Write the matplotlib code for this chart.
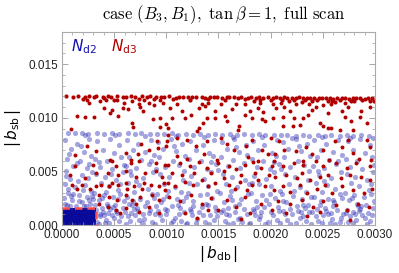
#!/usr/bin/env python3
"""Scatter of |b_sb| vs |b_db| for N_d2 / N_d3, case (B3, B1), tan beta = 1."""
import numpy as np
import matplotlib
matplotlib.use('Agg')
import matplotlib.pyplot as plt
from matplotlib.ticker import MultipleLocator, FormatStrFormatter

plt.rcParams['font.family'] = ['Liberation Sans', 'DejaVu Sans']
plt.rcParams['mathtext.fontset'] = 'cm'

# units: |b_db| in 1e-4, |b_sb| in 1e-3
X_UNIT, Y_UNIT = 1e-4, 1e-3

# N_d3: the dense ridge near |b_sb| ~ 0.012
nd3_ridge = [
    (0.4, 12.0), (1.1, 11.95), (1.5, 12.02), (2.2, 11.9), (2.6, 12.0), (3.1, 11.97), (3.3, 12.03),
    (3.9, 11.92), (4.4, 12.0), (4.7, 11.96), (5.3, 12.02), (5.8, 11.9), (6.1, 11.98), (6.6, 12.0),
    (7.0, 11.93), (7.7, 11.99), (8.1, 11.95), (8.4, 12.01), (9.0, 11.9), (9.5, 11.97), (9.8, 11.94),
    (10.3, 11.99), (10.9, 11.88), (11.2, 11.95), (11.6, 11.98), (12.1, 11.9), (12.5, 11.96),
    (12.8, 11.93), (13.4, 11.97), (13.7, 11.88), (14.2, 11.95), (14.6, 11.92), (14.9, 11.97),
    (15.3, 11.87), (15.8, 11.94), (16.0, 11.9), (16.5, 11.96), (16.9, 11.86), (17.2, 11.92),
    (17.8, 11.89), (18.1, 11.94), (18.6, 11.85), (18.9, 11.91), (19.3, 11.88), (19.7, 11.93),
    (20.2, 11.84), (20.5, 11.9), (20.9, 11.87), (21.3, 11.92), (21.6, 11.83), (22.0, 11.89),
    (22.4, 11.86), (22.7, 11.9), (23.1, 11.82), (23.5, 11.88), (23.8, 11.85), (24.2, 11.89),
    (24.6, 11.8), (24.9, 11.86), (25.3, 11.83), (25.7, 11.88), (26.0, 11.79), (26.4, 11.85),
    (26.8, 11.82), (27.1, 11.86), (27.5, 11.78), (27.9, 11.84), (28.2, 11.8), (28.6, 11.85),
    (29.0, 11.77), (29.3, 11.82), (29.7, 11.8),
    (2.0, 11.75), (4.0, 11.8), (5.0, 11.7), (7.4, 11.78), (8.8, 11.72), (10.6, 11.76), (12.3, 11.7),
    (14.0, 11.74), (15.6, 11.68), (17.5, 11.72), (19.0, 11.66), (20.0, 11.7), (21.1, 11.65),
    (22.2, 11.69), (23.3, 11.62), (24.4, 11.67), (25.5, 11.6), (26.6, 11.65), (27.7, 11.6),
    (28.8, 11.63), (29.5, 11.58), (18.4, 11.6), (21.8, 11.55), (24.0, 11.55), (26.2, 11.5),
    (28.0, 11.52), (29.9, 11.6), (23.0, 11.5), (25.9, 11.58),
]

# N_d3: scattered points below the ridge
nd3_scatter = [
    (1.41, 10.2), (2.2, 10.1), (3.1, 10.1), (4.05, 10.9), (4.6, 10.4), (4.8, 10.7), (5.4, 10.15),
    (5.8, 10.9), (6.35, 10.8), (6.7, 9.5), (6.8, 9.1), (7.5, 11.0), (7.8, 10.6), (8.75, 9.85),
    (9.4, 10.0), (9.4, 9.1), (10.0, 9.4), (10.2, 8.4), (9.1, 7.8), (9.2, 7.2), (8.3, 7.0), (7.3, 6.6),
    (6.6, 6.1), (6.1, 6.7), (10.0, 7.4), (7.6, 7.6), (2.4, 7.35), (1.25, 6.56), (4.6, 6.1), (3.3, 6.9),
    (2.37, 11.7), (2.6, 11.4), (3.6, 11.55), (4.2, 11.7), (5.3, 11.7), (5.9, 11.4), (6.7, 11.55),
    (7.4, 11.25), (7.9, 11.7), (8.3, 11.4), (8.8, 11.2), (9.4, 11.7), (9.7, 11.4), (0.9, 9.0),
    (10.35, 10.9), (11.0, 11.25), (11.5, 10.6), (10.5, 10.0), (10.2, 9.07), (11.8, 10.0), (12.4, 10.3),
    (13.1, 10.9), (13.4, 11.3), (13.7, 11.1), (14.0, 11.4), (13.9, 10.0), (13.5, 9.5), (13.1, 9.07),
    (12.9, 8.75), (14.7, 10.6), (14.7, 10.0), (15.2, 11.3), (15.6, 10.15), (15.8, 9.7), (16.3, 10.8),
    (16.9, 8.9), (17.0, 9.2), (16.7, 11.3), (17.5, 11.3), (17.5, 10.3), (18.0, 10.6), (18.2, 10.0),
    (18.8, 10.9), (19.0, 11.4), (19.3, 10.5), (19.2, 9.9), (19.5, 9.7), (20.2, 11.3), (20.2, 10.0),
    (10.1, 7.8), (11.0, 8.1), (12.0, 7.9), (12.8, 7.4), (13.9, 7.8), (15.2, 8.1), (15.8, 7.6),
    (16.5, 7.0), (17.6, 7.4), (18.2, 7.9), (19.2, 7.0), (19.7, 6.6), (11.0, 6.4), (12.0, 6.2),
    (13.6, 6.6), (14.9, 6.1), (17.8, 6.3), (18.8, 6.0),
    (20.5, 10.9), (21.3, 11.0), (21.2, 10.1), (21.9, 10.6), (22.2, 9.97), (23.1, 9.97), (23.6, 10.3),
    (22.8, 9.35), (22.1, 9.2), (21.2, 9.2), (24.0, 10.75), (24.3, 11.0), (25.0, 11.2), (25.5, 10.4),
    (24.7, 9.5), (25.0, 9.2), (25.5, 9.05), (25.8, 9.05), (26.6, 8.9), (26.8, 10.6), (27.1, 10.1),
    (27.4, 11.0), (27.7, 9.66), (28.6, 10.1), (28.7, 10.6), (29.5, 11.0), (29.2, 9.5), (27.9, 8.9),
    (27.1, 11.4), (25.8, 11.3), (23.7, 11.3), (22.4, 11.3), (21.0, 11.4),
    (20.0, 8.1), (20.8, 7.8), (21.3, 7.0), (20.4, 6.6), (22.4, 6.9), (23.4, 7.3), (24.0, 6.6),
    (25.0, 7.0), (26.2, 7.8), (26.8, 7.3), (27.4, 7.9), (27.9, 6.7), (28.5, 6.2), (29.2, 7.9),
    (29.5, 7.3), (29.6, 6.1), (25.6, 6.1), (23.1, 6.0),
    (1.25, 5.5), (3.0, 5.6), (4.75, 6.0), (5.2, 5.5), (6.6, 5.8), (7.4, 5.95), (9.0, 5.8), (9.9, 5.6),
    (0.8, 4.7), (2.2, 4.4), (3.3, 4.85), (4.4, 4.85), (5.4, 4.7), (6.1, 5.0), (7.1, 4.5), (8.0, 4.85),
    (9.0, 5.0), (9.6, 4.5), (1.0, 3.75), (1.45, 3.4), (1.9, 3.75), (2.7, 3.4), (3.3, 3.6), (3.7, 3.75),
    (4.5, 3.6), (4.8, 3.9), (5.4, 3.75), (6.1, 3.9), (6.2, 3.4), (6.9, 3.6), (7.7, 3.4), (7.9, 3.9),
    (8.5, 3.75), (9.3, 3.6), (9.8, 3.9), (9.9, 3.3), (3.5, 2.8), (4.5, 2.65), (5.3, 2.35), (6.1, 2.8),
    (6.7, 2.35), (7.5, 2.65), (8.6, 2.8), (9.3, 2.35), (4.4, 1.7), (5.2, 1.4), (6.1, 1.55), (7.4, 1.25),
    (8.3, 1.7), (9.3, 1.1), (3.5, 2.0), (7.1, 2.0), (5.6, 1.1),
    (10.2, 5.6), (11.3, 5.8), (12.3, 5.5), (13.1, 5.9), (13.9, 5.3), (15.0, 5.8), (16.0, 5.5),
    (16.7, 5.2), (17.5, 5.6), (18.3, 5.9), (19.1, 5.3), (20.1, 5.5), (10.2, 3.9), (10.8, 3.6),
    (11.8, 4.05), (12.6, 3.75), (13.4, 4.2), (14.0, 3.6), (14.7, 3.9), (15.5, 4.4), (16.0, 3.75),
    (16.6, 3.4), (17.1, 4.05), (17.7, 3.3), (18.2, 3.75), (18.8, 4.2), (19.5, 3.6), (10.5, 4.85),
    (11.5, 4.7), (12.7, 4.85), (14.3, 4.85), (15.5, 5.0), (17.2, 4.7), (18.5, 4.85), (19.8, 4.7),
    (10.3, 2.65), (11.3, 2.2), (12.4, 2.8), (13.4, 2.0), (14.3, 2.5), (15.0, 1.4), (15.8, 2.35),
    (16.7, 1.7), (17.5, 2.65), (18.0, 1.1), (19.1, 2.0), (20.1, 1.4), (11.8, 1.1), (12.9, 0.7),
    (14.0, 1.4), (17.2, 0.55),
    (20.3, 6.0), (21.2, 5.5), (22.2, 5.8), (23.1, 5.6), (24.3, 5.95), (25.0, 5.5), (26.3, 5.8),
    (27.3, 5.3), (28.2, 5.8), (29.5, 5.5), (20.4, 4.5), (21.5, 4.7), (22.5, 4.4), (23.0, 4.85),
    (23.8, 4.2), (24.7, 4.5), (25.5, 4.7), (26.7, 4.4), (27.6, 4.7), (28.7, 4.5), (29.5, 4.2),
    (20.3, 3.3), (21.2, 3.6), (21.9, 3.1), (22.8, 3.75), (23.5, 2.97), (24.4, 3.4), (25.2, 3.75),
    (25.9, 2.97), (26.8, 3.6), (27.9, 3.3), (28.9, 2.97), (29.7, 3.4), (20.7, 2.2), (21.9, 2.0),
    (23.0, 2.35), (24.1, 1.7), (25.0, 2.2), (26.3, 1.85), (27.3, 1.4), (28.4, 2.0), (29.4, 1.7),
    (21.5, 1.1), (23.5, 0.8), (27.6, 0.5), (24.7, 1.25),
]

# N_d2: upper edge of the blue cloud
nd2_edge = [
    (0.6, 8.6), (1.2, 8.55), (1.9, 8.62), (2.5, 8.5), (3.4, 8.58), (4.0, 8.52), (4.8, 8.6), (5.5, 8.48),
    (6.3, 8.55), (7.0, 8.5), (7.6, 8.57), (8.4, 8.45), (9.1, 8.52), (9.8, 8.47), (10.5, 8.55),
    (11.1, 8.42), (11.9, 8.5), (12.6, 8.44), (13.2, 8.52), (14.0, 8.4), (14.7, 8.47), (15.3, 8.42),
    (16.1, 8.5), (16.8, 8.37), (17.4, 8.45), (18.2, 8.4), (18.9, 8.47), (19.5, 8.35), (20.3, 8.42),
    (21.0, 8.37), (21.6, 8.44), (22.4, 8.32), (23.1, 8.4), (23.7, 8.34), (24.5, 8.41), (25.2, 8.3),
    (25.8, 8.37), (26.6, 8.32), (27.3, 8.38), (27.9, 8.28), (28.7, 8.35), (29.4, 8.3),
    (2.2, 8.4), (5.1, 8.35), (8.0, 8.3), (10.9, 8.3), (13.6, 8.25), (16.4, 8.2), (19.2, 8.22),
    (22.0, 8.15), (24.9, 8.18), (27.6, 8.12), (29.8, 8.15),
]

# N_d2: body of the blue cloud
nd2_scatter = [
    (0.3, 7.9), (1.4, 7.6), (2.6, 8.0), (0.9, 7.1), (2.1, 6.8), (0.5, 6.2), (1.7, 6.0), (2.8, 6.4),
    (1.1, 5.5), (2.4, 5.3), (0.4, 5.0), (1.9, 4.7), (2.9, 4.9), (0.8, 4.3), (1.5, 4.1), (2.5, 4.4),
    (0.3, 3.8), (1.2, 3.5), (2.2, 3.7), (2.8, 3.2), (0.6, 3.0), (1.6, 2.8), (2.4, 2.6), (0.2, 2.5),
    (1.0, 2.3), (1.9, 2.1), (2.7, 2.0), (0.5, 1.9), (1.3, 1.8), (2.3, 1.75), (3.0, 2.4), (0.9, 2.7),
    (2.0, 3.3), (0.4, 4.6), (1.4, 5.8), (2.6, 5.7), (0.7, 6.6), (1.8, 7.4),
    (3.4, 7.8), (4.6, 8.0), (5.5, 7.5), (3.9, 7.0), (5.0, 6.7), (3.2, 6.2), (4.3, 6.0), (5.7, 6.3),
    (3.6, 5.4), (4.8, 5.2), (5.9, 5.6), (3.3, 4.8), (4.1, 4.5), (5.2, 4.2), (5.8, 4.9), (3.7, 3.9),
    (4.5, 3.6), (5.4, 3.3), (3.1, 3.0), (4.0, 2.8), (4.9, 2.6), (5.6, 2.9), (3.5, 2.3), (4.3, 2.0),
    (5.1, 1.9), (5.9, 2.2), (3.3, 1.4), (3.9, 1.2), (4.6, 1.5), (5.3, 1.1), (5.8, 1.6), (3.6, 0.8),
    (4.2, 0.5), (4.8, 0.9), (5.5, 0.4), (3.4, 0.3), (4.4, 1.8), (5.0, 0.7), (3.8, 2.5), (5.6, 3.8),
    (4.7, 4.8), (3.5, 5.9),
    (6.2, 7.9), (7.3, 7.6), (8.5, 7.9), (6.8, 7.0), (8.0, 6.8), (6.4, 6.3), (7.6, 6.1), (8.8, 6.5),
    (6.1, 5.5), (7.1, 5.3), (8.3, 5.7), (6.6, 4.7), (7.8, 4.4), (8.7, 4.9), (6.3, 3.9), (7.4, 3.7),
    (8.2, 3.4), (6.9, 3.1), (8.6, 2.9), (6.2, 2.6), (7.5, 2.4), (8.1, 2.1), (6.7, 1.9), (7.2, 1.6),
    (8.4, 1.4), (6.0, 1.2), (7.0, 0.9), (7.9, 0.6), (8.9, 1.0), (6.5, 0.4), (7.7, 0.2), (8.6, 0.3),
    (6.3, 0.8), (7.3, 1.3), (8.0, 1.8), (6.8, 2.2), (8.8, 2.5), (7.1, 4.1), (6.5, 5.0), (8.5, 6.0),
    (9.2, 7.7), (10.4, 8.0), (11.5, 7.6), (9.7, 7.1), (10.9, 6.9), (9.3, 6.3), (10.6, 6.0), (11.8, 6.4),
    (9.9, 5.4), (11.2, 5.6), (9.4, 4.8), (10.3, 4.5), (11.6, 4.2), (9.8, 3.8), (10.8, 3.5), (11.4, 3.1),
    (9.1, 2.9), (10.1, 2.7), (11.0, 2.4), (11.9, 2.6), (9.5, 2.1), (10.5, 1.8), (11.3, 1.6), (9.2, 1.3),
    (10.0, 1.0), (10.8, 0.7), (11.7, 1.2), (9.6, 0.5), (10.4, 0.2), (11.4, 0.4), (9.9, 1.5), (11.1, 1.9),
    (10.2, 3.2), (11.7, 5.0), (9.0, 5.2), (10.7, 7.4),
    (12.3, 7.8), (13.5, 7.5), (14.6, 7.9), (12.8, 7.0), (14.1, 6.7), (12.2, 6.2), (13.3, 6.0), (14.5, 6.4),
    (12.7, 5.4), (13.9, 5.2), (14.8, 5.7), (12.4, 4.6), (13.6, 4.3), (14.3, 4.9), (12.9, 3.8), (14.0, 3.6),
    (14.9, 3.2), (12.1, 3.0), (13.2, 2.8), (14.4, 2.5), (12.6, 2.2), (13.8, 2.0), (14.7, 1.7), (12.3, 1.5),
    (13.1, 1.2), (14.2, 0.9), (12.9, 0.6), (13.7, 0.3), (14.6, 0.5), (12.0, 0.2), (13.4, 1.7), (14.8, 1.3),
    (12.5, 0.9), (13.9, 2.9), (12.2, 3.9), (14.3, 5.9),
    (15.3, 7.7), (16.5, 8.0), (17.6, 7.5), (15.8, 7.1), (17.0, 6.8), (15.2, 6.3), (16.4, 6.1), (17.7, 6.5),
    (15.9, 5.5), (17.1, 5.3), (15.4, 4.8), (16.3, 4.5), (17.5, 4.2), (15.7, 3.8), (16.8, 3.5), (17.9, 3.8),
    (15.1, 3.0), (16.1, 2.7), (17.2, 2.4), (17.8, 2.9), (15.5, 2.1), (16.6, 1.8), (17.4, 1.5), (15.2, 1.2),
    (16.0, 0.9), (16.9, 0.6), (17.7, 1.0), (15.6, 0.4), (16.4, 0.2), (17.3, 0.3), (15.9, 1.6), (17.0, 2.0),
    (16.2, 3.2), (17.4, 5.8), (15.0, 5.1), (16.7, 7.3),
    (18.3, 7.8), (19.4, 7.5), (20.6, 7.9), (18.8, 7.0), (20.1, 6.7), (18.2, 6.2), (19.3, 6.0), (20.5, 6.4),
    (18.7, 5.4), (19.9, 5.2), (20.8, 5.7), (18.4, 4.6), (19.6, 4.3), (20.3, 4.9), (18.9, 3.8), (20.0, 3.6),
    (20.9, 3.2), (18.1, 3.0), (19.2, 2.8), (20.4, 2.5), (18.6, 2.2), (19.8, 2.0), (20.7, 1.7), (18.3, 1.5),
    (19.1, 1.2), (20.2, 0.9), (18.9, 0.6), (19.7, 0.3), (20.6, 0.5), (18.0, 0.2), (19.4, 1.7), (20.8, 1.3),
    (18.5, 0.9), (19.9, 2.9), (18.2, 3.9), (20.3, 5.9),
    (21.2, 7.7), (22.4, 8.0), (23.5, 7.6), (21.7, 7.1), (22.9, 6.9), (21.3, 6.3), (22.6, 6.0), (23.8, 6.4),
    (21.9, 5.4), (23.2, 5.6), (21.4, 4.8), (22.3, 4.5), (23.6, 4.2), (21.8, 3.8), (22.8, 3.5), (23.4, 3.1),
    (21.1, 2.9), (22.1, 2.7), (23.0, 2.4), (23.9, 2.6), (21.5, 2.1), (22.5, 1.8), (23.3, 1.6), (21.2, 1.3),
    (22.0, 1.0), (22.8, 0.7), (23.7, 1.2), (21.6, 0.5), (22.4, 0.2), (23.4, 0.4), (21.9, 1.5), (23.1, 1.9),
    (22.2, 3.2), (23.7, 5.0), (21.0, 5.2), (22.7, 7.4),
    (24.2, 7.9), (25.3, 7.6), (26.5, 7.9), (24.8, 7.0), (26.0, 6.8), (24.4, 6.3), (25.6, 6.1), (26.8, 6.5),
    (24.1, 5.5), (25.1, 5.3), (26.3, 5.7), (24.6, 4.7), (25.8, 4.4), (26.7, 4.9), (24.3, 3.9), (25.4, 3.7),
    (26.2, 3.4), (24.9, 3.1), (26.6, 2.9), (24.2, 2.6), (25.5, 2.4), (26.1, 2.1), (24.7, 1.9), (25.2, 1.6),
    (26.4, 1.4), (24.0, 1.2), (25.0, 0.9), (25.9, 0.6), (26.9, 1.0), (24.5, 0.4), (25.7, 0.2), (26.6, 0.3),
    (24.3, 0.8), (25.3, 1.3), (26.0, 1.8), (24.8, 2.2), (26.8, 2.5), (25.1, 4.1), (24.5, 5.0), (26.5, 6.0),
    (27.4, 7.8), (28.6, 8.0), (29.5, 7.5), (27.9, 7.0), (29.0, 6.7), (27.2, 6.2), (28.3, 6.0), (29.7, 6.3),
    (27.6, 5.4), (28.8, 5.2), (29.9, 5.6), (27.3, 4.8), (28.1, 4.5), (29.2, 4.2), (29.8, 4.9), (27.7, 3.9),
    (28.5, 3.6), (29.4, 3.3), (27.1, 3.0), (28.0, 2.8), (28.9, 2.6), (29.6, 2.9), (27.5, 2.3), (28.3, 2.0),
    (29.1, 1.9), (29.9, 2.2), (27.3, 1.4), (27.9, 1.2), (28.6, 1.5), (29.3, 1.1), (29.8, 1.6), (27.6, 0.8),
    (28.2, 0.5), (28.8, 0.9), (29.5, 0.4), (27.4, 0.3), (28.4, 1.8), (29.0, 0.7), (27.8, 2.5), (29.6, 3.8),
    (3.5, 0.1), (4.0, 0.9), (4.5, 0.15), (5.2, 1.3), (5.7, 0.8), (6.1, 0.1), (6.9, 1.5), (7.4, 0.5),
    (8.3, 1.1), (8.9, 0.1), (9.4, 0.9), (10.1, 1.4), (10.6, 0.4), (11.2, 1.0), (11.9, 0.1), (12.4, 1.3),
    (12.8, 0.2), (13.5, 0.9), (14.1, 0.1), (14.9, 0.8), (15.4, 1.4), (15.9, 0.1), (16.6, 1.2), (17.1, 0.7),
    (17.9, 0.1), (18.4, 1.3), (19.0, 0.8), (19.5, 0.1), (20.0, 1.2), (20.9, 0.2), (21.4, 1.0), (21.9, 0.1),
    (22.6, 1.3), (23.1, 0.8), (23.9, 0.1), (24.4, 1.5), (24.9, 0.2), (25.5, 1.0), (26.2, 0.1), (26.7, 0.7),
    (27.2, 1.1), (27.9, 0.2), (28.5, 1.3), (29.2, 0.1), (29.7, 0.9),
    (3.8, 1.6), (6.4, 2.0), (9.0, 1.8), (11.6, 2.2), (14.0, 1.9), (16.3, 2.3), (18.7, 1.7), (21.2, 2.2),
    (23.6, 1.9), (26.0, 2.3), (28.7, 1.8),
    (0.3, 2.0), (0.8, 1.75), (1.6, 2.2), (2.1, 1.8), (2.6, 2.3), (3.2, 1.9), (3.6, 1.0), (4.1, 0.2),
    (4.4, 1.1), (4.9, 1.7), (5.4, 2.4), (1.1, 2.9), (2.9, 2.7), (0.6, 3.4), (4.2, 3.1), (6.6, 1.1),
    (7.8, 1.0), (9.7, 2.4), (12.6, 1.8), (15.7, 1.0), (19.6, 2.3), (22.9, 1.2), (25.8, 1.1), (28.1, 1.0),
]

# N_d2: saturated corner at small couplings
nd2_core = [
    (0.25, 0.3), (0.7, 0.35), (1.2, 0.3), (1.7, 0.35), (2.2, 0.3), (2.6, 0.35), (2.9, 0.3),
    (0.4, 0.65), (0.9, 0.7), (1.4, 0.6), (1.9, 0.7), (2.4, 0.65), (2.85, 0.7),
    (0.25, 0.95), (0.7, 1.0), (1.2, 0.9), (1.7, 1.0), (2.2, 0.95), (2.6, 1.0), (2.9, 0.95),
    (0.4, 1.25), (0.9, 1.25), (1.4, 1.2), (1.9, 1.25), (2.4, 1.2), (2.85, 1.25),
]

# dashed box corner (|b_db|, |b_sb|)
box_db, box_sb = 3.3, 1.62


def xy(pts):
    a = np.array(pts)
    return a[:, 0] * X_UNIT, a[:, 1] * Y_UNIT


fig = plt.figure(figsize=(3.99, 2.73), dpi=100)
ax = fig.add_axes([0.1554, 0.1758, 0.7844, 0.707])

blue = '#2626b4'
red = '#b00000'

x, y = xy(nd2_core)
ax.scatter(x, y, s=28, color='#0a0a9a', alpha=0.95, lw=0, marker='s')
x, y = xy(nd2_scatter)
ax.scatter(x, y, s=14, color=blue, alpha=0.42, lw=0)
x, y = xy(nd2_edge)
ax.scatter(x, y, s=14, color=blue, alpha=0.42, lw=0)
x, y = xy(nd3_scatter)
ax.scatter(x, y, s=8, color=red, lw=0)
x, y = xy(nd3_ridge)
ax.scatter(x, y, s=9, color=red, lw=0)

ax.plot([0, box_db * X_UNIT, box_db * X_UNIT], [box_sb * Y_UNIT, box_sb * Y_UNIT, 0],
        ls=(0, (3, 2)), color='#ff4d4d', lw=1.8, zorder=5, clip_on=False)

ax.set_xlim(0, 0.003)
ax.set_ylim(0, 0.018)
ax.xaxis.set_major_locator(MultipleLocator(0.0005))
ax.xaxis.set_minor_locator(MultipleLocator(0.0001))
ax.yaxis.set_major_locator(MultipleLocator(0.005))
ax.yaxis.set_minor_locator(MultipleLocator(0.001))
ax.xaxis.set_major_formatter(FormatStrFormatter('%.4f'))
ax.yaxis.set_major_formatter(FormatStrFormatter('%.3f'))
ax.tick_params(which='both', direction='in', top=True, right=True, color='#999999',
               labelsize=8.5, labelcolor='#222222', pad=3)
ax.tick_params(which='major', length=4, width=0.6)
ax.tick_params(which='minor', length=2, width=0.5)
for s in ax.spines.values():
    s.set_color('#aaaaaa')
    s.set_linewidth(0.8)

ax.set_xlabel(r'$|\,b_{\rm db}\,|$', fontsize=11, math_fontfamily='dejavusans', labelpad=2)
ax.set_ylabel(r'$|\,b_{\rm sb}\,|$', fontsize=11, math_fontfamily='dejavusans', labelpad=4)

ax.text(0.03, 0.925, r'$N_{\rm d2}$', transform=ax.transAxes, color='#1010b0', fontsize=11,
        math_fontfamily='dejavusans', va='center')
ax.text(0.155, 0.925, r'$N_{\rm d3}$', transform=ax.transAxes, color='#b00000', fontsize=11,
        math_fontfamily='dejavusans', va='center')

fig.text(0.56, 0.945, r'$\mathrm{case}\ (B_3, B_1),\ \tan\beta = 1,\ \mathrm{full\ scan}$',
         ha='center', va='center', fontsize=12)

fig.savefig('out.png', dpi=100)
